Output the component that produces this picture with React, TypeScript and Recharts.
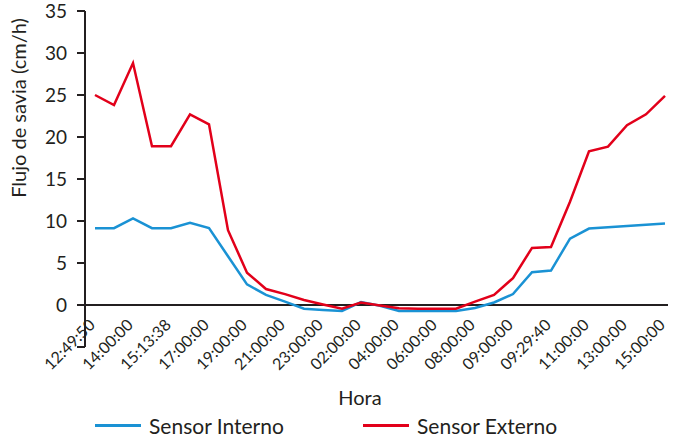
import { LineChart, Line, XAxis, YAxis, ReferenceLine, Legend, Label } from 'recharts';

// shown hour labels, one every two samples
const horaLabels = [
  '12:49:50', '14:00:00', '15:13:38', '17:00:00', '19:00:00', '21:00:00',
  '23:00:00', '02:00:00', '04:00:00', '06:00:00', '08:00:00', '09:00:00',
  '09:29:40', '11:00:00', '13:00:00', '15:00:00',
];

// flujo de savia (cm/h), one value per sample
const sensorInterno = [
  9.15, 9.15, 10.3, 9.15, 9.15, 9.8, 9.15, 5.8, 2.45, 1.2,
  0.4, -0.45, -0.6, -0.7, 0.35, -0.1, -0.7, -0.7, -0.7, -0.7,
  -0.35, 0.3, 1.3, 3.9, 4.1, 7.9, 9.1, 9.25, 9.4, 9.55, 9.7,
];
const sensorExterno = [
  25, 23.8, 28.8, 18.9, 18.9, 22.7, 21.5, 8.9, 3.85, 1.9,
  1.3, 0.6, 0.05, -0.45, 0.3, -0.05, -0.4, -0.45, -0.45, -0.45,
  0.4, 1.2, 3.2, 6.8, 6.9, 12.3, 18.3, 18.85, 21.4, 22.7, 24.9,
];

const yTicks = [-5, 0, 5, 10, 15, 20, 25, 30, 35];

const data = sensorInterno.map((v, i) => ({
  idx: i,
  interno: v,
  externo: sensorExterno[i],
}));
const labelTicks = horaLabels.map((_, i) => i * 2);
// tick marks sit between samples, 31 intervals across the axis
const markTicks = Array.from({ length: 32 }, (_, j) => j);

const FONT = 'Lato, "Open Sans", sans-serif';
const INK = '#231f20';
const BLUE = '#1a92d4';
const RED = '#e2001a';

const W = 673;
const H = 437;
const TOP = 11;
const RIGHT = 5;
const Y_AXIS_W = 85;
const X_AXIS_H = 90;
const Y_MIN = -5;
const Y_MAX = 35;
const PLOT_H = H - TOP - X_AXIS_H;
const Y_ZERO = TOP + (PLOT_H * Y_MAX) / (Y_MAX - Y_MIN);

function HoraTick({ x, payload }: any) {
  const ax = x + 1;
  const ay = Y_ZERO + 21;
  return (
    <text
      x={ax}
      y={ay}
      transform={`rotate(-45 ${ax} ${ay})`}
      textAnchor="end"
      fontSize={16}
      fontFamily={FONT}
      fill={INK}
    >
      {horaLabels[payload.value / 2]}
    </text>
  );
}

function MarkTick({ x }: any) {
  return <line x1={x} x2={x} y1={Y_ZERO} y2={Y_ZERO + 6} stroke={INK} strokeWidth={2} />;
}

function LegendContent() {
  const items = [
    { name: 'Sensor Interno', color: BLUE, left: 95 },
    { name: 'Sensor Externo', color: RED, left: 363 },
  ];
  return (
    <div style={{ position: 'relative', height: 24 }}>
      {items.map((it) => (
        <div
          key={it.name}
          style={{
            position: 'absolute',
            left: it.left,
            top: 0,
            height: 24,
            display: 'flex',
            alignItems: 'center',
            fontFamily: FONT,
            fontSize: 21,
            color: INK,
            whiteSpace: 'nowrap',
          }}
        >
          <span style={{ width: 46, height: 3, background: it.color, marginRight: 8 }} />
          {it.name}
        </div>
      ))}
    </div>
  );
}

export default function App() {
  return (
    <div style={{ position: 'absolute', left: 0, top: 0, background: '#fff' }}>
      <LineChart
        width={W}
        height={H}
        data={data}
        margin={{ top: TOP, right: RIGHT, bottom: 0, left: 0 }}
      >
        <XAxis
          xAxisId="hora"
          dataKey="idx"
          type="number"
          domain={[-10 / 19, 30 + 3 / 19]}
          allowDataOverflow
          ticks={labelTicks}
          interval={0}
          axisLine={false}
          tickLine={false}
          tickSize={0}
          tickMargin={0}
          height={X_AXIS_H}
          tick={<HoraTick />}
        >
          <Label
            content={() => (
              <text x={360} y={405} textAnchor="middle" fontSize={20} fontFamily={FONT} fill={INK}>
                Hora
              </text>
            )}
          />
        </XAxis>
        <XAxis
          xAxisId="marks"
          type="number"
          domain={[0, 31]}
          allowDataOverflow
          ticks={markTicks}
          interval={0}
          axisLine={false}
          tickLine={false}
          tickSize={0}
          tickMargin={0}
          height={0}
          tick={<MarkTick />}
        />
        <YAxis
          domain={[Y_MIN, Y_MAX]}
          allowDataOverflow
          ticks={yTicks}
          interval={0}
          width={Y_AXIS_W}
          axisLine={{ stroke: INK, strokeWidth: 2 }}
          tickLine={{ stroke: INK, strokeWidth: 2 }}
          tickSize={8}
          tickMargin={10}
          tick={{ fill: INK, fontSize: 19, fontFamily: FONT }}
          tickFormatter={(v: number) => (v < 0 ? '' : String(v))}
        >
          <Label
            content={() => (
              <text
                transform="translate(19 108) rotate(-90)"
                textAnchor="middle"
                dy="0.35em"
                fontSize={20}
                fontFamily={FONT}
                fill={INK}
              >
                Flujo de savia (cm/h)
              </text>
            )}
          />
        </YAxis>
        <ReferenceLine xAxisId="hora" y={0} stroke={INK} strokeWidth={2} />
        <Line
          xAxisId="hora"
          type="linear"
          dataKey="interno"
          name="Sensor Interno"
          stroke={BLUE}
          strokeWidth={2.5}
          dot={false}
          isAnimationActive={false}
        />
        <Line
          xAxisId="hora"
          type="linear"
          dataKey="externo"
          name="Sensor Externo"
          stroke={RED}
          strokeWidth={2.5}
          dot={false}
          isAnimationActive={false}
        />
        <Legend
          layout="horizontal"
          verticalAlign="middle"
          wrapperStyle={{ top: 413, left: 0, width: W }}
          content={<LegendContent />}
        />
      </LineChart>
    </div>
  );
}
